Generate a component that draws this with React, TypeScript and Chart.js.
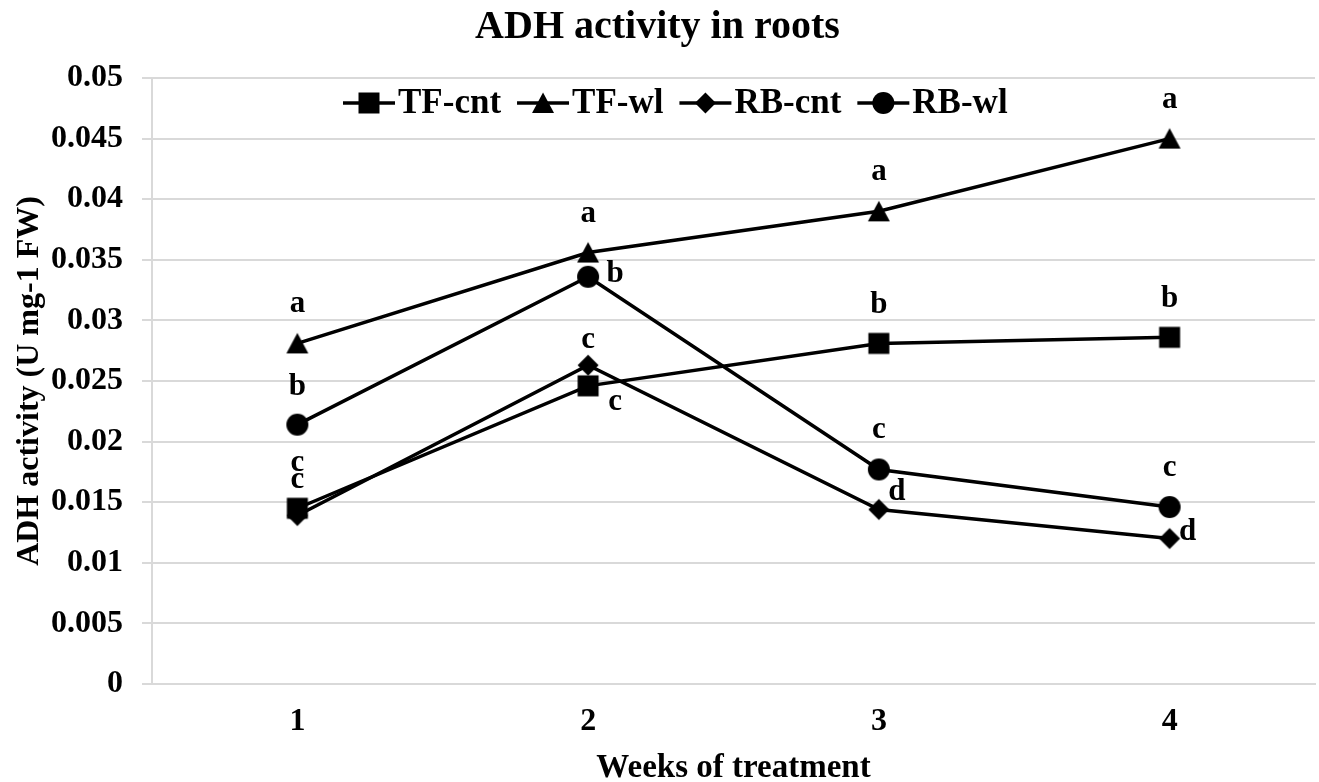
import React, { useEffect, useRef } from "react";
import { Chart, registerables } from "chart.js";

Chart.register(...registerables);

// ---------- data ----------
const WEEKS = ["1", "2", "3", "4"];
const SERIES_NAMES = ["TF-cnt", "TF-wl", "RB-cnt", "RB-wl"];
const TF_CNT = [0.0145, 0.0246, 0.0281, 0.0286];
const TF_WL = [0.0281, 0.0356, 0.039, 0.045];
const RB_CNT = [0.0139, 0.0263, 0.0144, 0.012];
const RB_WL = [0.0214, 0.0336, 0.0177, 0.0146];

const TF_CNT_LETTERS = ["c", "c", "b", "b"];
const TF_WL_LETTERS = ["a", "a", "a", "a"];
const RB_CNT_LETTERS = ["c", "c", "d", "d"];
const RB_WL_LETTERS = ["b", "b", "c", "c"];

const Y_MIN = 0;
const Y_MAX = 0.05;
const Y_STEP = 0.005;

// ---------- styling ----------
const FONT = "'Liberation Serif', 'Times New Roman', serif";
const MARKERS = ["square", "triangle", "diamond", "circle"];
// label placement relative to marker centre [dx, dy] (text baseline)
const LETTER_OFFSETS = [
  [[0, -20], [27, 24], [0, -30], [0, -30]],
  [[0, -31], [0, -31], [0, -31], [0, -31]],
  [[0, -45], [0, -17], [18, -9], [18, 1]],
  [[0, -30], [27, 5], [0, -31], [0, -31]],
];
const GRID = "#d9d9d9";

function drawShape(ctx: CanvasRenderingContext2D, kind: string, cx: number, cy: number) {
  ctx.beginPath();
  if (kind === "square") {
    ctx.rect(cx - 10.5, cy - 10.5, 21, 21);
  } else if (kind === "triangle") {
    ctx.moveTo(cx, cy - 10.5);
    ctx.lineTo(cx + 11, cy + 10);
    ctx.lineTo(cx - 11, cy + 10);
    ctx.closePath();
  } else if (kind === "diamond") {
    ctx.moveTo(cx, cy - 10.5);
    ctx.lineTo(cx + 10.5, cy);
    ctx.lineTo(cx, cy + 10.5);
    ctx.lineTo(cx - 10.5, cy);
    ctx.closePath();
  } else {
    ctx.arc(cx, cy, 11, 0, Math.PI * 2);
  }
  ctx.fillStyle = "#000";
  ctx.fill();
}

function makeMarker(kind: string): HTMLCanvasElement {
  const c = document.createElement("canvas");
  c.width = 24;
  c.height = 24;
  const ctx = c.getContext("2d")!;
  drawShape(ctx, kind, 12, 12);
  return c;
}

const letterPlugin = {
  id: "letters",
  afterDatasetsDraw(chart: any) {
    const ctx = chart.ctx as CanvasRenderingContext2D;
    const letters = [TF_CNT_LETTERS, TF_WL_LETTERS, RB_CNT_LETTERS, RB_WL_LETTERS];
    ctx.save();
    ctx.font = `bold 31px ${FONT}`;
    ctx.fillStyle = "#000";
    ctx.textAlign = "center";
    ctx.textBaseline = "alphabetic";
    chart.data.datasets.forEach((_ds: any, i: number) => {
      const meta = chart.getDatasetMeta(i);
      meta.data.forEach((pt: any, j: number) => {
        const [dx, dy] = LETTER_OFFSETS[i][j];
        ctx.fillText(letters[i][j], pt.x + dx, pt.y + dy);
      });
    });
    ctx.restore();
  },
};

const legendPlugin = {
  id: "innerLegend",
  afterDraw(chart: any) {
    const ctx = chart.ctx as CanvasRenderingContext2D;
    const y = 103;
    let x = 343;
    const symW = 52;
    ctx.save();
    ctx.font = `bold 35px ${FONT}`;
    ctx.textBaseline = "middle";
    ctx.textAlign = "left";
    chart.data.datasets.forEach((ds: any, i: number) => {
      ctx.strokeStyle = "#000";
      ctx.lineWidth = 3.5;
      ctx.beginPath();
      ctx.moveTo(x, y);
      ctx.lineTo(x + symW, y);
      ctx.stroke();
      drawShape(ctx, MARKERS[i], x + symW / 2, y);
      const tx = x + symW + 3;
      ctx.fillStyle = "#000";
      ctx.fillText(ds.label, tx, y + 1);
      x = tx + ctx.measureText(ds.label).width + 16;
    });
    ctx.restore();
  },
};

export default function App() {
  const ref = useRef<HTMLCanvasElement | null>(null);

  useEffect(() => {
    document.body.style.margin = "0";
    document.body.style.overflow = "hidden";
    const canvas = ref.current;
    if (!canvas) return;
    const series = [TF_CNT, TF_WL, RB_CNT, RB_WL];
    const chart = new Chart(canvas, {
      type: "line",
      data: {
        labels: WEEKS,
        datasets: series.map((vals, i) => ({
          label: SERIES_NAMES[i],
          data: vals,
          borderColor: "#000",
          backgroundColor: "#000",
          borderWidth: 3.5,
          pointStyle: makeMarker(MARKERS[i]) as any,
          pointRadius: 11,
          pointHoverRadius: 11,
          tension: 0,
          fill: false,
        })),
      },
      options: {
        responsive: false,
        maintainAspectRatio: false,
        animation: false,
        layout: { autoPadding: false, padding: { left: 0, right: 4, top: 0, bottom: 0 } },
        plugins: {
          legend: { display: false },
          tooltip: { enabled: false },
          title: {
            display: true,
            text: "ADH activity in roots",
            color: "#000",
            font: { family: FONT, size: 40, weight: "bold", lineHeight: 1.0 },
            padding: { top: 8, bottom: 30 },
          },
        },
        scales: {
          x: {
            type: "category",
            offset: true,
            grid: { display: false, drawTicks: false },
            border: { display: true, color: GRID, width: 2 },
            ticks: {
              color: "#000",
              padding: 19,
              font: { family: FONT, size: 32, weight: "bold" },
            },
            title: {
              display: true,
              text: "Weeks of treatment",
              color: "#000",
              font: { family: FONT, size: 33, weight: "bold", lineHeight: 1.0 },
              padding: { top: 10, bottom: -3 },
            },
            afterFit: (scale: any) => {
              scale.height = 98;
              scale.paddingLeft = 0;
              scale.paddingRight = 0;
            },
          },
          y: {
            min: Y_MIN,
            max: Y_MAX,
            grid: { color: GRID, lineWidth: 2, tickLength: 10, drawTicks: true, tickColor: GRID },
            border: { display: true, color: GRID, width: 2 },
            ticks: {
              stepSize: Y_STEP,
              color: "#000",
              padding: 19,
              font: { family: FONT, size: 32, weight: "bold" },
              callback: (v: any) => String(parseFloat(Number(v).toFixed(4))),
            },
            title: {
              display: true,
              text: "ADH activity (U mg-1 FW)",
              color: "#000",
              font: { family: FONT, size: 32, weight: "bold", lineHeight: 1.0 },
              padding: { top: 14, bottom: 7 },
            },
            afterFit: (scale: any) => {
              scale.width = 152;
            },
          },
        },
      },
      plugins: [letterPlugin, legendPlugin],
    });
    return () => chart.destroy();
  }, []);

  return (
    <div style={{ width: 1319, height: 782, overflow: "hidden" }}>
      <canvas ref={ref} width={1319} height={782} style={{ display: "block" }} />
    </div>
  );
}
